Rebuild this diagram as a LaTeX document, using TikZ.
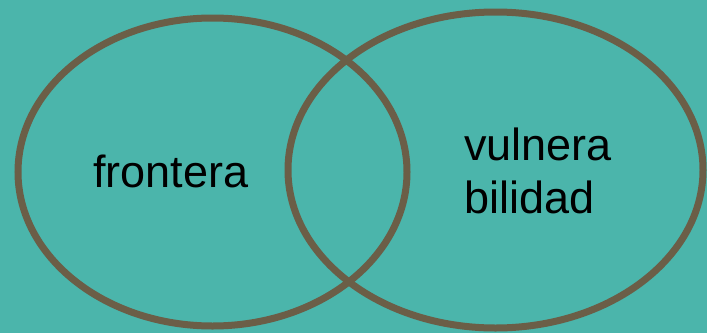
\documentclass[tikz,border=0pt]{standalone}
\usepackage{fontspec}
\setmainfont{Liberation Sans}
\usetikzlibrary{positioning}
\definecolor{vnbg}{HTML}{4BB5AB}
\definecolor{vnring}{HTML}{6B5E47}

\begin{document}
\begin{tikzpicture}[x=1pt, y=-1pt,
  ring/.style={draw=vnring, line width=7pt},
  label/.style={inner sep=0pt, align=left, font=\fontsize{45}{53}\selectfont}
]
\fill[vnbg] (0,0) rectangle (707,333);
\useasboundingbox (0,0) rectangle (707,333);

\draw[ring] (212.5,172) ellipse [x radius=194.5, y radius=154];
\draw[ring] (495.5,170) ellipse [x radius=207.5, y radius=158];

\node[label, anchor=base west] (front) at (93,187) {frontera};
\node[label, anchor=base west] (vuln) at (464,213) {vulnera\\bilidad};
\end{tikzpicture}
\end{document}
